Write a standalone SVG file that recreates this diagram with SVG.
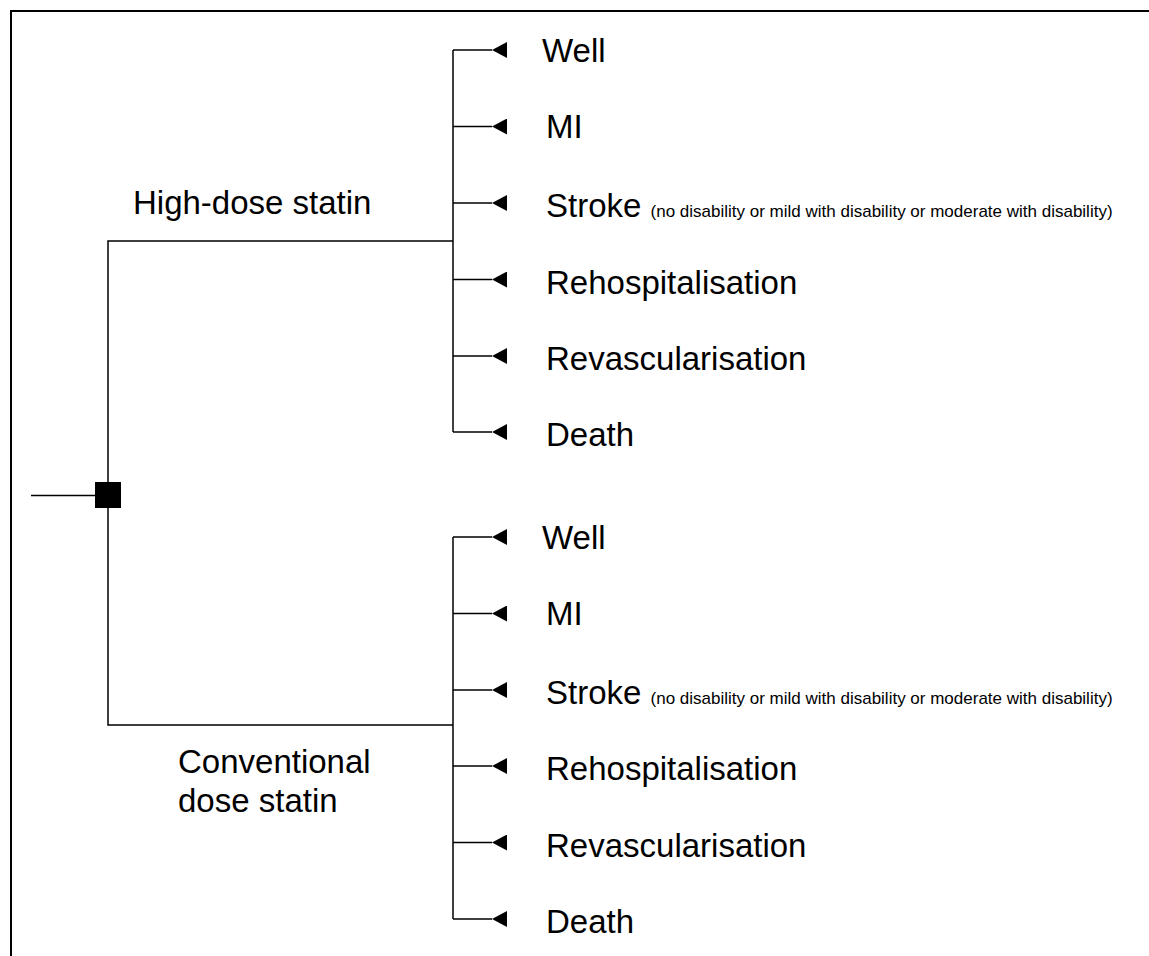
<svg xmlns="http://www.w3.org/2000/svg" width="1149" height="956" viewBox="0 0 1149 956">
<style>
.ln{fill:none;stroke:#000;stroke-width:1.5}
.big{font-family:"Liberation Sans",Arial,sans-serif;font-size:33px;fill:#000}
.sm{font-family:"Liberation Sans",Arial,sans-serif;font-size:17px;fill:#000}
</style>
<defs>
<marker id="ah" viewBox="0 0 15 16" refX="0" refY="8" markerWidth="15" markerHeight="16" markerUnits="userSpaceOnUse" orient="auto-start-reverse">
<path d="M15,0 L0,8 L15,16 Z" fill="#000"/>
</marker>
</defs>
<rect width="1149" height="956" fill="#fff"/>
<path d="M11,960 V11 H1160" fill="none" stroke="#000" stroke-width="2"/>
<g id="connectors">
<path class="ln" d="M31,495.5 H95"/>
<path class="ln" d="M108,482 V241 H453"/>
<path class="ln" d="M108,508 V725 H453"/>
<path class="ln" d="M453,50 V432"/>
<path class="ln" d="M453,537 V919"/>
<path class="ln" d="M453,50 H492" marker-end="url(#ah)"/>
<path class="ln" d="M453,126.5 H492" marker-end="url(#ah)"/>
<path class="ln" d="M453,203 H492" marker-end="url(#ah)"/>
<path class="ln" d="M453,279.5 H492" marker-end="url(#ah)"/>
<path class="ln" d="M453,356 H492" marker-end="url(#ah)"/>
<path class="ln" d="M453,432 H492" marker-end="url(#ah)"/>
<path class="ln" d="M453,537 H492" marker-end="url(#ah)"/>
<path class="ln" d="M453,613.5 H492" marker-end="url(#ah)"/>
<path class="ln" d="M453,690 H492" marker-end="url(#ah)"/>
<path class="ln" d="M453,766 H492" marker-end="url(#ah)"/>
<path class="ln" d="M453,842.5 H492" marker-end="url(#ah)"/>
<path class="ln" d="M453,919 H492" marker-end="url(#ah)"/>
</g>
<g id="decision"><rect x="95" y="482" width="26" height="26" fill="#000"/></g>
<g id="high-dose"><text class="big" x="133" y="214">High-dose statin</text></g>
<g id="conventional"><text class="big" x="178" y="773">Conventional</text><text class="big" x="178" y="812">dose statin</text></g>
<g id="hd-well"><text class="big" x="542" y="62">Well</text></g>
<g id="hd-mi"><text class="big" x="546" y="138">MI</text></g>
<g id="hd-stroke"><text class="big" x="546" y="217">Stroke <tspan class="sm">(no disability or mild with disability or moderate with disability)</tspan></text></g>
<g id="hd-rehosp"><text class="big" x="546" y="294">Rehospitalisation</text></g>
<g id="hd-revasc"><text class="big" x="546" y="370">Revascularisation</text></g>
<g id="hd-death"><text class="big" x="546" y="446">Death</text></g>
<g id="cd-well"><text class="big" x="542" y="549">Well</text></g>
<g id="cd-mi"><text class="big" x="546" y="625">MI</text></g>
<g id="cd-stroke"><text class="big" x="546" y="704">Stroke <tspan class="sm">(no disability or mild with disability or moderate with disability)</tspan></text></g>
<g id="cd-rehosp"><text class="big" x="546" y="780">Rehospitalisation</text></g>
<g id="cd-revasc"><text class="big" x="546" y="857">Revascularisation</text></g>
<g id="cd-death"><text class="big" x="546" y="933">Death</text></g>
</svg>
